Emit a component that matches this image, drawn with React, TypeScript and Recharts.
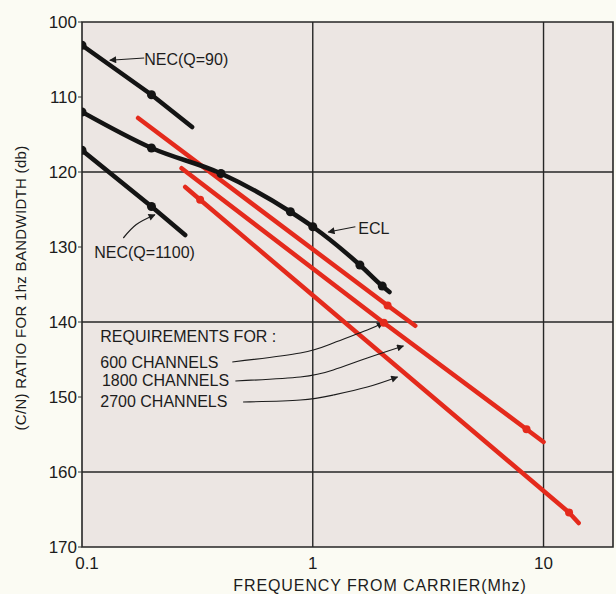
import React from 'react';
import { LineChart, Line, XAxis, YAxis, ReferenceArea, ReferenceLine, ReferenceDot } from 'recharts';

// ---- data (frequency in MHz, C/N ratio in dB) ----
const xTicks = [0.1, 1, 10];
const yTicks = [100, 110, 120, 130, 140, 150, 160, 170];
const xGrid = [1, 10];
const yGrid = [120, 140, 160];

const necQ90 = [
  { f: 0.1, db: 103.1 },
  { f: 0.2, db: 109.7 },
  { f: 0.3, db: 114 },
];
const necQ1100 = [
  { f: 0.1, db: 117.1 },
  { f: 0.2, db: 124.6 },
  { f: 0.28, db: 128.4 },
];
const ecl = [
  { f: 0.1, db: 112 },
  { f: 0.2, db: 116.8 },
  { f: 0.4, db: 120.2 },
  { f: 0.8, db: 125.3 },
  { f: 1, db: 127.3 },
  { f: 1.6, db: 132.4 },
  { f: 2, db: 135.2 },
  { f: 2.15, db: 136 },
];
const req600 = [
  { f: 0.175, db: 112.8 },
  { f: 2.11, db: 137.8 },
  { f: 2.78, db: 140.5 },
];
const req1800 = [
  { f: 0.27, db: 119.5 },
  { f: 2.03, db: 140.1 },
  { f: 8.44, db: 154.3 },
  { f: 10, db: 156 },
];
const req2700 = [
  { f: 0.28, db: 122 },
  { f: 0.325, db: 123.7 },
  { f: 12.9, db: 165.4 },
  { f: 14.2, db: 166.8 },
];

// leader arrows
const leadQ90 = [
  { f: 0.186, db: 104.8 },
  { f: 0.132, db: 105.1 },
];
const leadQ1100 = [
  { f: 0.151, db: 128.8 },
  { f: 0.172, db: 127.0 },
  { f: 0.207, db: 125.7 },
];
const leadEcl = [
  { f: 1.53, db: 127.3 },
  { f: 1.167, db: 128 },
];
const lead600 = [
  { f: 0.448, db: 145.33 },
  { f: 0.883, db: 144.13 },
  { f: 1.227, db: 142.8 },
  { f: 1.723, db: 141.07 },
  { f: 2.02, db: 140.1 },
];
const lead1800 = [
  { f: 0.462, db: 147.87 },
  { f: 0.883, db: 147.33 },
  { f: 1.227, db: 146.4 },
  { f: 1.723, db: 144.8 },
  { f: 2.47, db: 143.2 },
];
const lead2700 = [
  { f: 0.499, db: 150.67 },
  { f: 0.883, db: 150.4 },
  { f: 1.227, db: 149.73 },
  { f: 1.723, db: 148.67 },
  { f: 2.33, db: 147.33 },
];

const notes = [
  { text: 'NEC(Q=90)', f: 0.186, db: 104.9 },
  { text: 'NEC(Q=1100)', f: 0.113, db: 130.7 },
  { text: 'ECL', f: 1.574, db: 127.5 },
  { text: 'REQUIREMENTS FOR :', f: 0.12, db: 141.9 },
  { text: '600 CHANNELS', f: 0.12, db: 145.3 },
  { text: '1800 CHANNELS', f: 0.122, db: 147.8 },
  { text: '2700 CHANNELS', f: 0.12, db: 150.5 },
];

const FONT = 'Liberation Sans, Arial, sans-serif';
const INK = '#1c1c1c';
const RED = '#e42a1c';
const BLACK = '#141414';

const innerDot = (color: string, n: number, r: number) => (p: any) => {
  if (p.index === n - 1 || p.cx == null || p.cy == null) return <g key={`d${p.index}`} />;
  return <circle key={`d${p.index}`} cx={p.cx} cy={p.cy} r={r} fill={color} />;
};
const redDot = (n: number) => (p: any) => {
  if (p.index === 0 || p.index === n - 1 || p.cx == null) return <g key={`r${p.index}`} />;
  return <circle key={`r${p.index}`} cx={p.cx} cy={p.cy} r={4} fill={RED} />;
};

const noteLabel = (text: string) => (props: any) => {
  const vb = props.viewBox || {};
  const x = (vb.x ?? 0) + (vb.width ?? 0) / 2;
  const y = (vb.y ?? 0) + (vb.height ?? 0) / 2;
  return (
    <text x={x} y={y} dy="0.36em" fontSize={16} fontFamily={FONT} fill={INK} textAnchor="start">
      {text}
    </text>
  );
};

const XTick = (props: any) => {
  const { x, y, payload } = props;
  const dx = payload.value === 0.1 ? 5 : 0;
  return (
    <text x={x + dx} y={y} dy="0.71em" textAnchor="middle" fontSize={17} fontFamily={FONT} fill={INK}>
      {String(payload.value)}
    </text>
  );
};

export default function App() {
  return (
    <div style={{ position: 'absolute', left: 0, top: 0, width: 616, height: 594, background: '#fbfbf3' }}>
      <svg width={0} height={0} style={{ position: 'absolute' }}>
        <defs>
          <marker id="arrowHead" viewBox="0 0 10 10" refX="9" refY="5" markerWidth="9" markerHeight="7" markerUnits="userSpaceOnUse" orient="auto">
            <path d="M0,0 L10,5 L0,10 z" fill={INK} />
          </marker>
        </defs>
      </svg>
      <LineChart width={616} height={594} margin={{ top: 22, right: 3, bottom: 0, left: 0 }}>
        <XAxis
          dataKey="f"
          type="number"
          scale="log"
          domain={[0.1, 20]}
          ticks={xTicks}
          interval={0}
          allowDataOverflow
          axisLine={false}
          tickLine={false}
          tickMargin={4}
          height={47}
          tick={<XTick />}
          label={(props: any) => {
            const vb = props.viewBox || {};
            return (
              <text x={380} y={(vb.y ?? 547) + 44} textAnchor="middle" fontSize={16} letterSpacing={0.9} fontFamily={FONT} fill={INK}>
                FREQUENCY FROM CARRIER(Mhz)
              </text>
            );
          }}
        />
        <YAxis
          type="number"
          domain={[100, 170]}
          reversed
          ticks={yTicks}
          interval={0}
          allowDataOverflow
          axisLine={false}
          tickSize={4}
          tickMargin={1}
          width={82}
          tickLine={{ stroke: '#333' }}
          tick={{ fontSize: 17, fill: INK, fontFamily: FONT }}
          label={() => (
            <text
              x={20}
              y={288}
              transform="rotate(-90 20 288)"
              textAnchor="middle"
              dominantBaseline="central"
              fontSize={15}
              letterSpacing={0.3}
              fontFamily={FONT}
              fill={INK}
            >
              (C/N) RATIO FOR 1hz BANDWIDTH (db)
            </text>
          )}
        />
        <ReferenceArea x1={0.1} x2={20} y1={100} y2={170} fill="#ece6e3" fillOpacity={1} stroke="#262626" strokeWidth={1.6} />
        {xGrid.map((v) => (
          <ReferenceLine key={`vx${v}`} x={v} stroke="#262626" strokeWidth={1.4} />
        ))}
        {yGrid.map((v) => (
          <ReferenceLine key={`hy${v}`} y={v} stroke="#262626" strokeWidth={1.4} />
        ))}

        <Line data={req600} dataKey="db" type="linear" stroke={RED} strokeWidth={4.5} strokeLinecap="round" dot={redDot(req600.length)} isAnimationActive={false} />
        <Line data={req1800} dataKey="db" type="linear" stroke={RED} strokeWidth={4.5} strokeLinecap="round" dot={redDot(req1800.length)} isAnimationActive={false} />
        <Line data={req2700} dataKey="db" type="linear" stroke={RED} strokeWidth={4.5} strokeLinecap="round" dot={redDot(req2700.length)} isAnimationActive={false} />

        <Line data={necQ90} dataKey="db" type="linear" stroke={BLACK} strokeWidth={4.5} strokeLinecap="round" dot={innerDot(BLACK, necQ90.length, 4.5)} isAnimationActive={false} />
        <Line data={necQ1100} dataKey="db" type="linear" stroke={BLACK} strokeWidth={4.5} strokeLinecap="round" dot={innerDot(BLACK, necQ1100.length, 4.5)} isAnimationActive={false} />
        <Line data={ecl} dataKey="db" type="monotone" stroke={BLACK} strokeWidth={4.5} strokeLinecap="round" dot={innerDot(BLACK, ecl.length, 4.5)} isAnimationActive={false} />

        {[leadQ90, leadQ1100, leadEcl, lead600, lead1800, lead2700].map((d, i) => (
          <Line
            key={`lead${i}`}
            data={d}
            dataKey="db"
            type="natural"
            stroke={INK}
            strokeWidth={1.2}
            dot={false}
            markerEnd="url(#arrowHead)"
            isAnimationActive={false}
          />
        ))}

        {notes.map((n, i) => (
          <ReferenceDot key={`n${i}`} x={n.f} y={n.db} r={0} fill="none" stroke="none" label={noteLabel(n.text)} />
        ))}
      </LineChart>
    </div>
  );
}
